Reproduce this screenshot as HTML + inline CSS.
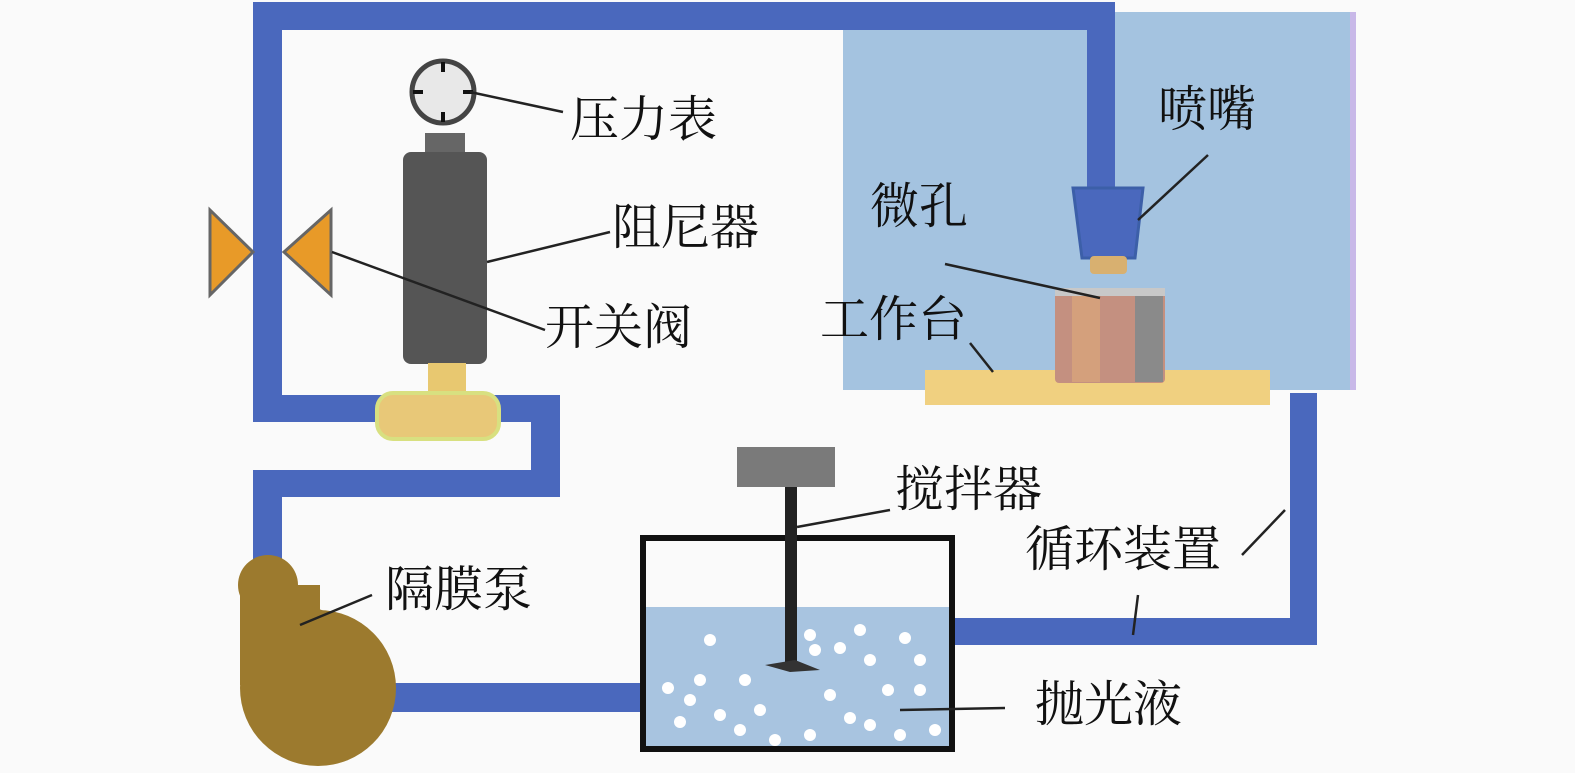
<!DOCTYPE html>
<html><head><meta charset="utf-8"><style>
body{margin:0;background:#fafafa;}
svg{display:block}
text{font-family:"Liberation Serif","Noto Serif CJK SC",serif;font-size:49px;fill:#111}
</style></head><body>
<svg width="1575" height="773" viewBox="0 0 1575 773" xmlns="http://www.w3.org/2000/svg">
<rect width="1575" height="773" fill="#fafafa"/>
<rect x="843" y="12" width="512" height="378" fill="#a4c3e0"/>
<rect x="1350" y="12" width="6" height="378" fill="#c8b8e8"/>
<g fill="#4a68bd">
<rect x="253" y="2" width="862" height="28"/>
<rect x="253" y="2" width="29" height="420"/>
<rect x="253" y="395" width="307" height="27"/>
<rect x="531" y="395" width="29" height="102"/>
<rect x="253" y="470" width="307" height="27"/>
<rect x="253" y="470" width="29" height="110"/>
<rect x="1087" y="2" width="28" height="185"/>
<rect x="1290" y="393" width="27" height="252"/>
<rect x="950" y="618" width="367" height="27"/>
<rect x="380" y="683" width="262" height="29"/>
</g>
<rect x="925" y="370" width="345" height="35" fill="#f0d080"/>
<rect x="1055" y="290" width="110" height="93" rx="4" fill="#c49080"/>
<rect x="1072" y="292" width="28" height="90" fill="#d4a07c"/>
<rect x="1135" y="292" width="28" height="90" fill="#8a8a8a"/>
<rect x="1055" y="288" width="110" height="8" fill="#c8c8c8"/>
<polygon points="1073,188 1143,188 1135,258 1082,258" fill="#4a68bd" stroke="#3c5fa8" stroke-width="3"/>
<rect x="1090" y="256" width="37" height="18" rx="4" fill="#d8b070"/>
<rect x="425" y="133" width="40" height="28" fill="#666"/>
<rect x="403" y="152" width="84" height="212" rx="8" fill="#555"/>
<rect x="428" y="363" width="38" height="35" fill="#e8c870"/>
<rect x="377" y="393" width="122" height="46" rx="16" fill="#e8c878" stroke="#d8e080" stroke-width="4"/>
<circle cx="443" cy="92" r="31" fill="#e8e8e8" stroke="#444" stroke-width="5"/>
<g stroke="#111" stroke-width="4">
<line x1="443" y1="62" x2="443" y2="72"/><line x1="443" y1="112" x2="443" y2="122"/>
<line x1="413" y1="92" x2="423" y2="92"/><line x1="463" y1="92" x2="473" y2="92"/>
</g>
<polygon points="210,210 210,295 253,252" fill="#e89a28" stroke="#666" stroke-width="3"/>
<polygon points="331,210 331,295 284,252" fill="#e89a28" stroke="#666" stroke-width="3"/>
<g fill="#9c7a2e">
<circle cx="318" cy="688" r="78"/>
<circle cx="268" cy="585" r="30"/>
<rect x="240" y="585" width="80" height="100"/>
<path d="M290,600 Q350,615 385,650 L395,700 L300,700Z"/>
</g>
<rect x="646" y="607" width="303" height="140" fill="#a8c4e0"/>
<g fill="#fff">
<circle cx="668" cy="688" r="6"/><circle cx="710" cy="640" r="6"/><circle cx="690" cy="700" r="6"/><circle cx="720" cy="715" r="6"/><circle cx="680" cy="722" r="6"/><circle cx="745" cy="680" r="6"/><circle cx="760" cy="710" r="6"/><circle cx="740" cy="730" r="6"/><circle cx="810" cy="635" r="6"/><circle cx="815" cy="650" r="6"/><circle cx="840" cy="648" r="6"/><circle cx="830" cy="695" r="6"/><circle cx="810" cy="735" r="6"/><circle cx="860" cy="630" r="6"/><circle cx="870" cy="660" r="6"/><circle cx="905" cy="638" r="6"/><circle cx="920" cy="660" r="6"/><circle cx="888" cy="690" r="6"/><circle cx="920" cy="690" r="6"/><circle cx="870" cy="725" r="6"/><circle cx="900" cy="735" r="6"/><circle cx="935" cy="730" r="6"/><circle cx="775" cy="740" r="6"/><circle cx="850" cy="718" r="6"/><circle cx="700" cy="680" r="6"/>
</g>
<rect x="643" y="538" width="309" height="211" fill="none" stroke="#111" stroke-width="6"/>
<rect x="737" y="447" width="98" height="40" fill="#7a7a7a"/>
<rect x="785" y="487" width="12" height="182" fill="#222"/>
<polygon points="765,665 795,660 820,670 790,672" fill="#333"/>
<g stroke="#222" stroke-width="2.5" fill="none">
<line x1="470" y1="92" x2="563" y2="112"/>
<line x1="487" y1="262" x2="610" y2="232"/>
<line x1="332" y1="252" x2="545" y2="330"/>
<line x1="1138" y1="220" x2="1208" y2="155"/>
<line x1="945" y1="264" x2="1100" y2="298"/>
<line x1="970" y1="343" x2="993" y2="372"/>
<line x1="797" y1="527" x2="890" y2="510"/>
<line x1="1242" y1="555" x2="1285" y2="510"/>
<line x1="1138" y1="595" x2="1133" y2="635"/>
<line x1="300" y1="625" x2="372" y2="595"/>
<line x1="900" y1="710" x2="1005" y2="708"/>
</g>
<text x="570" y="136">压力表</text>
<text x="612" y="244">阻尼器</text>
<text x="545" y="344">开关阀</text>
<text x="1158" y="126">喷嘴</text>
<text x="870" y="223">微孔</text>
<text x="820" y="336">工作台</text>
<text x="895" y="506">搅拌器</text>
<text x="1025" y="566">循环装置</text>
<text x="385" y="606">隔膜泵</text>
<text x="1035" y="721">抛光液</text>
</svg>
</body></html>
